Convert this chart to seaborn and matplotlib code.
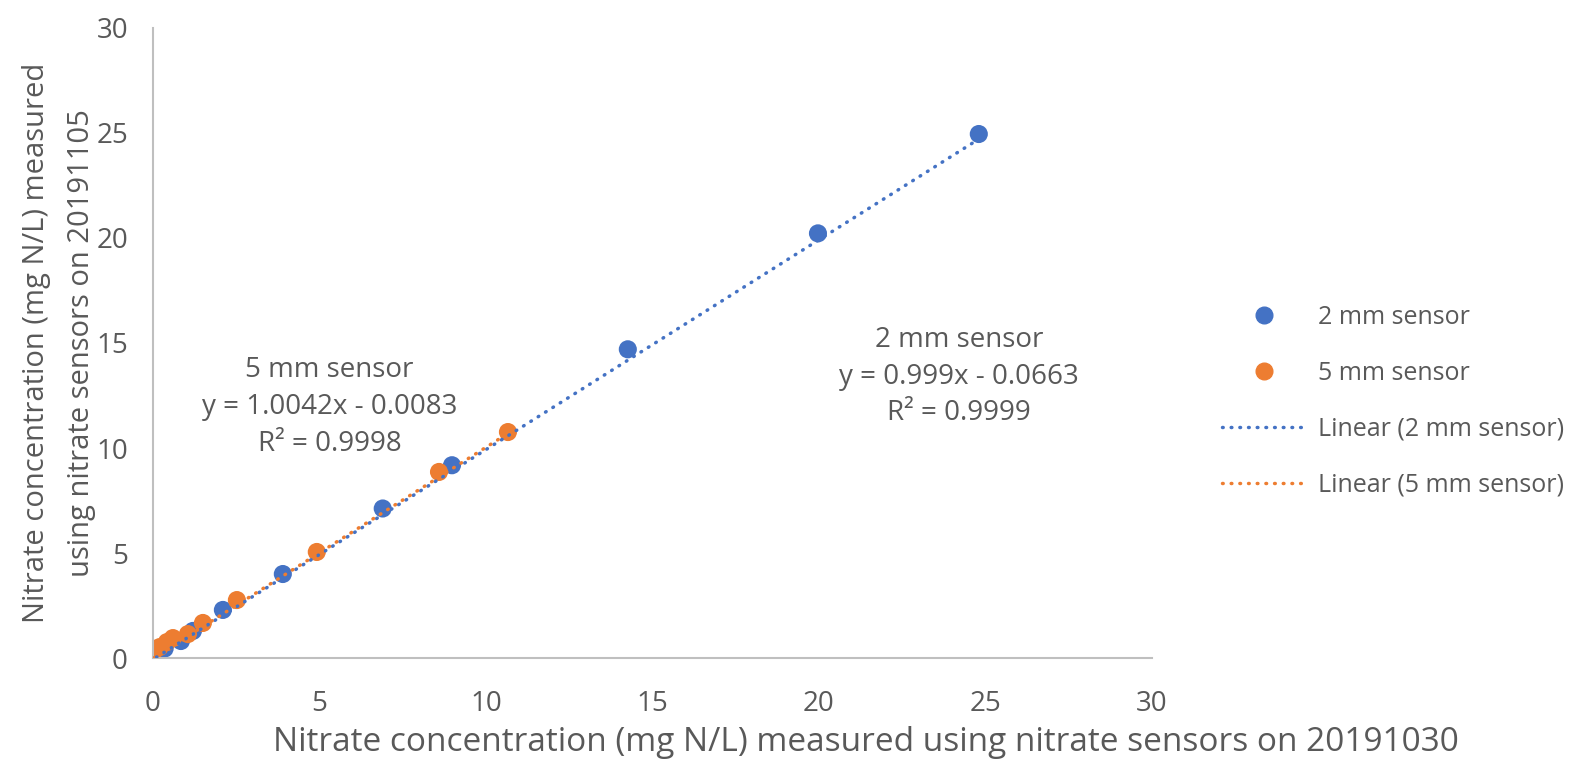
import numpy as np
import pandas as pd
import matplotlib
matplotlib.use("Agg")
import matplotlib.pyplot as plt
import seaborn as sns
from matplotlib.lines import Line2D

# ==========================================
# DATA
# ==========================================

x_2mm = [0.1, 0.35, 0.84, 1.2, 2.1, 3.9, 6.9, 8.98, 14.26, 19.97, 24.8]
y_2mm = [0.25, 0.45, 0.81, 1.29, 2.29, 4.0, 7.12, 9.18, 14.7, 20.22, 24.95]

x_5mm = [0.0, 0.2, 0.42, 0.6, 1.05, 1.5, 2.52, 4.92, 8.59, 10.66]
y_5mm = [0.24, 0.52, 0.76, 0.95, 1.14, 1.67, 2.76, 5.05, 8.86, 10.76]

series = ["2 mm sensor", "5 mm sensor"]
slopes = [0.999, 1.0042]
intercepts = [-0.0663, -0.0083]
r2 = [0.9999, 0.9998]

colors = {"2 mm sensor": "#4472C4", "5 mm sensor": "#ED7D31"}
grey = "#595959"
dots = (0, (0.2, 2.3))

df = pd.DataFrame({
    "x": x_2mm + x_5mm,
    "y": y_2mm + y_5mm,
    "sensor": [series[0]] * len(x_2mm) + [series[1]] * len(x_5mm),
})

# trendlines over each series' data range
trend_rows = []
for s, m, b in zip(series, slopes, intercepts):
    sub = df[df["sensor"] == s]
    for xv in [sub["x"].min(), sub["x"].max()]:
        trend_rows.append({"x": xv, "y": m * xv + b, "sensor": s})
trend = pd.DataFrame(trend_rows)

# ==========================================
# PLOT
# ==========================================

sns.set_style("white")
plt.rcParams["font.family"] = ["Open Sans", "DejaVu Sans"]

fig = plt.figure(figsize=(15.72, 7.64), dpi=100)
ax = fig.add_axes([0.0973, 0.1387, 0.6355, 0.8247])

for s in series:
    sns.lineplot(
        data=trend[trend["sensor"] == s], x="x", y="y",
        color=colors[s], linewidth=2.5, ax=ax, legend=False,
        dashes=False, zorder=3,
    )
for line in ax.get_lines():
    line.set_linestyle(dots)
    line.set_dash_capstyle("round")

sns.scatterplot(
    data=df, x="x", y="y", hue="sensor", palette=colors,
    s=170, edgecolor="none", ax=ax, legend=False, zorder=2,
)

ax.set_xlim(0, 30)
ax.set_ylim(0, 30)
ax.set_xticks(range(0, 31, 5))
ax.set_yticks(range(0, 31, 5))
ax.tick_params(length=0, labelsize=20, labelcolor=grey)
ax.tick_params(axis="x", pad=23)
ax.tick_params(axis="y", pad=18)

for side in ["top", "right"]:
    ax.spines[side].set_visible(False)
for side in ["left", "bottom"]:
    ax.spines[side].set_color("#BFBFBF")
    ax.spines[side].set_linewidth(1.5)

ax.set_xlabel("Nitrate concentration (mg N/L) measured using nitrate sensors on 20191030",
              fontsize=24, color=grey)
ax.xaxis.set_label_coords(0.714, -0.108)
ax.set_ylabel("Nitrate concentration (mg N/L) measured\nusing nitrate sensors on 20191105",
              fontsize=21, color=grey, linespacing=1.75)
ax.yaxis.set_label_coords(-0.057, 0.5)

# trendline equations
ax.text(5.3, 11.95,
        "5 mm sensor\ny = %.4fx - %.4f\nR² = %.4f" % (slopes[1], -intercepts[1], r2[1]),
        ha="center", va="center", fontsize=20, color=grey, linespacing=1.42)
ax.text(24.2, 13.4,
        "2 mm sensor\ny = %.3fx - %.4f\nR² = %.4f" % (slopes[0], -intercepts[0], r2[0]),
        ha="center", va="center", fontsize=20, color=grey, linespacing=1.42)

# legend
handles = [
    Line2D([], [], marker="o", linestyle="none", color=colors[series[0]], markersize=12),
    Line2D([], [], marker="o", linestyle="none", color=colors[series[1]], markersize=12),
    Line2D([], [], color=colors[series[0]], linewidth=2.5, linestyle=dots,
           dash_capstyle="round"),
    Line2D([], [], color=colors[series[1]], linewidth=2.5, linestyle=dots,
           dash_capstyle="round"),
]
labels = series + ["Linear (%s)" % s for s in series]
leg = fig.legend(handles, labels, loc="center left", bbox_to_anchor=(0.763, 0.475),
                 frameon=False, fontsize=18, labelspacing=1.24, handlelength=3.4,
                 handletextpad=0.44, labelcolor=grey)

fig.savefig("out.png", dpi=100)
